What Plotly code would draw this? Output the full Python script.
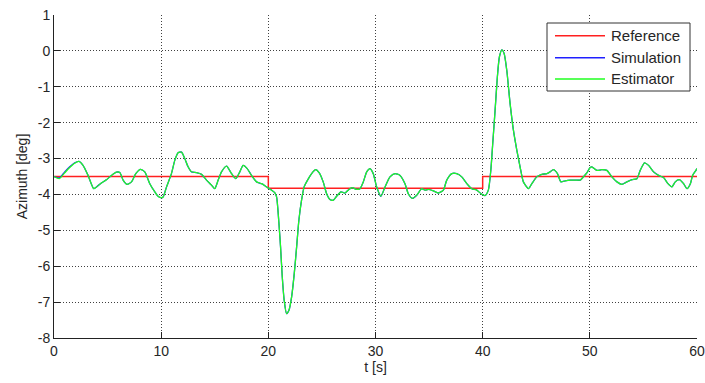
import plotly.graph_objects as go

# Time samples [s] and azimuth values [deg]
t = [0, 0.5, 1.0, 1.47, 1.93, 2.33, 2.71, 3.18, 3.71, 3.96, 4.42, 4.89, 5.36, 5.83, 6.14,
     6.45, 6.82, 7.23, 7.63, 8.07, 8.47, 8.94, 9.41, 9.71, 10.0, 10.18, 10.5, 10.96, 11.27,
     11.58, 11.9, 12.2, 12.51, 12.83, 13.3, 13.77, 14.23, 14.7, 15.0, 15.32, 15.63, 16.1,
     16.57, 16.97, 17.34, 17.65, 18.03, 18.43, 18.9, 19.37, 19.84, 20.3, 20.6, 20.77, 20.99,
     21.14, 21.3, 21.48, 21.7, 21.92, 22.17, 22.42, 22.64, 22.85, 23.1, 23.34, 23.66, 24.04,
     24.41, 24.75, 25.12, 25.44, 25.75, 26.06, 26.37, 26.78, 27.15, 27.52, 27.83, 28.24,
     28.55, 28.86, 29.18, 29.49, 29.79, 30.11, 30.5, 30.89, 31.35, 31.82, 32.29, 32.75,
     33.06, 33.44, 33.85, 34.31, 34.62, 34.93, 35.4, 35.86, 36.33, 36.65, 37.12, 37.58,
     38.05, 38.52, 38.98, 39.45, 39.85, 40.22, 40.53, 40.76, 40.94, 41.16, 41.37, 41.56,
     41.79, 42.0, 42.25, 42.56, 42.87, 43.19, 43.49, 43.8, 44.27, 44.59, 45.05, 45.52,
     45.99, 46.3, 46.6, 46.98, 47.3, 47.7, 48.17, 48.63, 49.1, 49.4, 49.72, 50.03, 50.19,
     50.66, 51.12, 51.59, 52.06, 52.53, 52.99, 53.46, 53.93, 54.39, 54.7, 55.1, 55.48,
     55.94, 56.41, 56.88, 57.29, 57.66, 57.97, 58.35, 58.75, 59.07, 59.38, 59.59, 59.9, 60.0]

simulation = [-3.50, -3.54, -3.37, -3.23, -3.12, -3.08, -3.19, -3.47, -3.84, -3.79, -3.68,
              -3.59, -3.47, -3.38, -3.39, -3.60, -3.72, -3.65, -3.42, -3.30, -3.37, -3.70,
              -3.93, -4.05, -4.09, -4.07, -3.79, -3.42, -3.05, -2.84, -2.82, -3.00, -3.23,
              -3.37, -3.39, -3.44, -3.60, -3.74, -3.84, -3.60, -3.37, -3.21, -3.42, -3.56,
              -3.37, -3.19, -3.28, -3.47, -3.65, -3.70, -3.79, -3.88, -3.95, -4.07, -4.81,
              -5.46, -6.30, -6.95, -7.32, -7.23, -6.86, -6.20, -5.46, -4.72, -4.16, -3.79,
              -3.60, -3.42, -3.31, -3.40, -3.65, -3.98, -4.14, -4.16, -4.05, -3.93, -3.96,
              -3.86, -3.81, -3.86, -3.84, -3.65, -3.37, -3.28, -3.42, -3.79, -4.05, -3.79,
              -3.51, -3.42, -3.47, -3.70, -3.98, -4.11, -4.02, -3.84, -3.88, -3.86, -3.90,
              -3.96, -3.88, -3.60, -3.42, -3.42, -3.51, -3.70, -3.84, -3.88, -3.98, -4.03,
              -3.88, -3.33, -2.58, -1.65, -0.73, -0.17, 0.03, -0.07, -0.54, -1.47, -2.21,
              -2.77, -3.23, -3.65, -3.84, -3.70, -3.51, -3.44, -3.42, -3.37, -3.31, -3.42,
              -3.65, -3.62, -3.60, -3.60, -3.60, -3.51, -3.40, -3.25, -3.23, -3.33, -3.31,
              -3.33, -3.51, -3.65, -3.72, -3.65, -3.59, -3.56, -3.33, -3.12, -3.19, -3.37,
              -3.47, -3.53, -3.70, -3.79, -3.65, -3.59, -3.70, -3.84, -3.70, -3.47, -3.33,
              -3.28]

estimator = [-3.50, -3.56, -3.40, -3.25, -3.13, -3.08, -3.19, -3.47, -3.84, -3.79, -3.68,
             -3.59, -3.47, -3.38, -3.39, -3.60, -3.72, -3.65, -3.42, -3.30, -3.37, -3.70,
             -3.93, -4.05, -4.09, -4.07, -3.79, -3.42, -3.05, -2.84, -2.82, -3.00, -3.23,
             -3.37, -3.39, -3.44, -3.60, -3.74, -3.84, -3.60, -3.37, -3.21, -3.42, -3.56,
             -3.37, -3.19, -3.28, -3.47, -3.65, -3.70, -3.79, -3.88, -3.95, -4.07, -4.81,
             -5.46, -6.30, -6.95, -7.32, -7.23, -6.86, -6.20, -5.46, -4.72, -4.16, -3.79,
             -3.60, -3.42, -3.31, -3.40, -3.65, -3.98, -4.14, -4.16, -4.05, -3.93, -3.96,
             -3.86, -3.81, -3.86, -3.84, -3.65, -3.37, -3.28, -3.42, -3.79, -4.05, -3.79,
             -3.51, -3.42, -3.47, -3.70, -3.98, -4.11, -4.02, -3.84, -3.88, -3.86, -3.90,
             -3.96, -3.88, -3.60, -3.42, -3.42, -3.51, -3.70, -3.84, -3.88, -3.98, -4.03,
             -3.88, -3.33, -2.58, -1.65, -0.73, -0.17, 0.03, -0.07, -0.54, -1.47, -2.21,
             -2.77, -3.23, -3.65, -3.84, -3.70, -3.51, -3.44, -3.42, -3.37, -3.31, -3.42,
             -3.65, -3.62, -3.60, -3.60, -3.60, -3.51, -3.40, -3.25, -3.23, -3.33, -3.31,
             -3.33, -3.51, -3.65, -3.72, -3.65, -3.59, -3.56, -3.33, -3.12, -3.19, -3.37,
             -3.47, -3.53, -3.70, -3.79, -3.65, -3.59, -3.70, -3.84, -3.70, -3.47, -3.33,
             -3.28]

# Reference step signal
ref_t = [0, 20, 40, 60]
ref_v = [-3.5, -3.83, -3.5, -3.5]

x_ticks = [0, 10, 20, 30, 40, 50, 60]
y_ticks = [-8, -7, -6, -5, -4, -3, -2, -1, 0, 1]

series_names = ["Reference", "Simulation", "Estimator"]
series_colors = ["#ff2020", "#2020ff", "#20ff20"]

FONT = "Liberation Sans, Arial, sans-serif"
TXT = "#262626"

fig = go.Figure()
fig.add_trace(go.Scatter(x=ref_t, y=ref_v, mode="lines", name=series_names[0],
                         line=dict(color=series_colors[0], width=1.5, shape="hv")))
fig.add_trace(go.Scatter(x=t, y=simulation, mode="lines", name=series_names[1],
                         line=dict(color=series_colors[1], width=1.3, shape="spline", smoothing=0.6)))
fig.add_trace(go.Scatter(x=t, y=estimator, mode="lines", name=series_names[2],
                         line=dict(color=series_colors[2], width=1.25, shape="spline", smoothing=0.6)))

axis_common = dict(
    showgrid=True, gridcolor="#404040", griddash="1px,2px", gridwidth=1,
    showline=True, linecolor="#222222", linewidth=1,
    ticks="inside", ticklen=6, tickcolor="#222222", tickwidth=1,
    zeroline=False, mirror=False, automargin=False,
    tickfont=dict(family=FONT, size=14, color=TXT),
    title_font=dict(family=FONT, size=14, color=TXT),
)

fig.update_xaxes(range=[0, 60], tickvals=x_ticks, ticktext=[str(v) for v in x_ticks],
                 title_text="t [s]", title_standoff=2, **axis_common)
fig.update_yaxes(range=[-8, 1], tickvals=y_ticks, ticktext=[str(v) for v in y_ticks],
                 title_text="Azimuth [deg]", title_standoff=6, **axis_common)

# Custom legend box (MATLAB style), in plot-area (paper) coordinates
L, R, T, B = 54, 8, 15, 45
W, H = 705 - L - R, 383 - T - B
def px(xp):
    return (xp - L) / W
def py(yp):
    return (383 - B - yp) / H

fig.add_shape(type="rect", xref="paper", yref="paper",
              x0=px(547), x1=px(690), y0=py(91), y1=py(23),
              line=dict(color="#333333", width=1), fillcolor="white", layer="above")
rows = [35.7, 57.7, 79.0]
for name, color, yr in zip(series_names, series_colors, rows):
    fig.add_shape(type="line", xref="paper", yref="paper",
                  x0=px(555), x1=px(605), y0=py(yr), y1=py(yr),
                  line=dict(color=color, width=1.6), layer="above")
    fig.add_annotation(x=px(609), y=py(yr), xref="paper", yref="paper",
                       text=name, showarrow=False, xanchor="left", yanchor="middle",
                       font=dict(family=FONT, size=15, color=TXT))

fig.update_layout(
    width=705, height=383,
    margin=dict(l=L, r=R, t=T, b=B),
    paper_bgcolor="white", plot_bgcolor="white",
    font=dict(family=FONT, size=14, color=TXT),
    showlegend=False,
)

fig.write_html("out.html")
